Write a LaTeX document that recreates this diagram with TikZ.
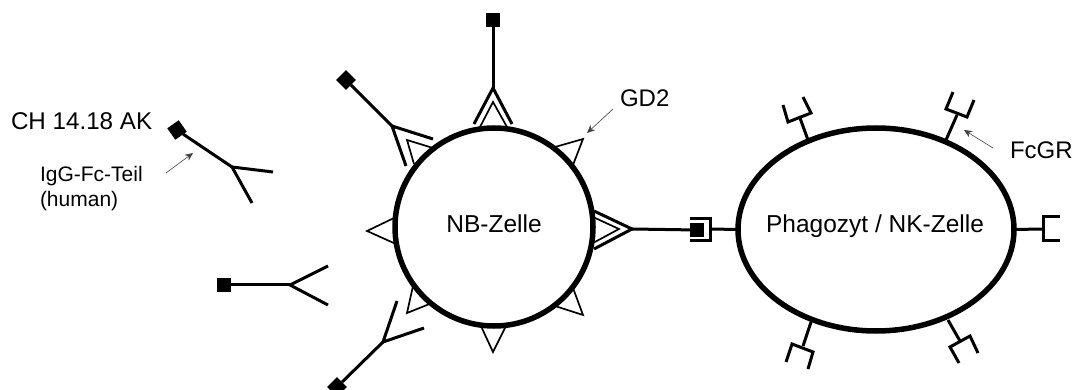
\documentclass[tikz,border=0pt]{standalone}
\usepackage{fontspec}
\setmainfont{Liberation Sans}
\usetikzlibrary{shapes.geometric,arrows.meta}
\tikzset{
  x=1pt,y=-1pt,
  cell/.style={draw=black,line width=5.5pt,fill=none,inner sep=0pt,outer sep=0pt,anchor=center},
  fcsquare/.style={fill=black,draw=none,minimum size=14pt,inner sep=0pt,outer sep=0pt,shape=rectangle},
  chain/.style={line width=3pt,line cap=butt,line join=miter,draw=black},
  antigen/.style={line width=1.7pt,line join=miter,draw=black,fill=none},
  pointer/.style={line width=0.6pt,draw=black!75,-{Stealth[length=8pt,width=7pt]}},
  label/.style={inner sep=0pt,outer sep=0pt,text=black,anchor=base west},
}
\begin{document}
\begin{tikzpicture}
\useasboundingbox (0,0) rectangle (1077,390);

% Cells
\node[cell,circle,minimum size=198pt] (nb) at (494,227) {};
\node[cell,ellipse,minimum width=276pt,minimum height=203pt] (phago) at (876,229.5) {};

% GD2 antigens on the tumour cell surface
\draw[antigen] (480,127) -- (493,102) -- (507,127);
\draw[antigen] (433,148) -- (407,140) -- (414,164);
\draw[antigen] (555,147) -- (583,139) -- (573,165);
\draw[antigen] (593,217) -- (619,229) -- (593,243);
\draw[antigen] (394,218) -- (367,231) -- (396,244);
\draw[antigen] (413,286) -- (407,313) -- (432,303);
\draw[antigen] (480,324) -- (493,352) -- (507,324);
\draw[antigen] (555,306) -- (583,315) -- (573,288);

% Free antibody, upper left
\node[fcsquare,rotate=35] (fa) at (177,130) {};
\coordinate (ja) at (232,167);
\coordinate (aa1) at (273,172);
\coordinate (aa2) at (252,203);
\draw[chain] (fa) -- (ja);
\draw[chain] (aa1) -- (ja) -- (aa2);

% Free antibody, left
\node[fcsquare] (fb) at (224,285) {};
\coordinate (jb) at (290,285);
\coordinate (ab1) at (328,266);
\coordinate (ab2) at (328,305);
\draw[chain] (fb) -- (jb);
\draw[chain] (ab1) -- (jb) -- (ab2);

% Free antibody, bottom
\node[fcsquare,rotate=45] (fc) at (337,387) {};
\coordinate (jc) at (383,342);
\coordinate (ac1) at (397,301);
\coordinate (ac2) at (424,328);
\draw[chain] (fc) -- (jc);
\draw[chain] (ac1) -- (jc) -- (ac2);

% Antibody bound at the top of the cell
\node[fcsquare] (fd) at (493,20) {};
\coordinate (jd) at (493,88);
\coordinate (ad1) at (474,124);
\coordinate (ad2) at (512,124);
\draw[chain] (fd) -- (jd);
\draw[chain] (ad1) -- (jd) -- (ad2);

% Antibody bound at the upper left of the cell
\node[fcsquare,rotate=45] (fe) at (346,80) {};
\coordinate (je) at (392,126);
\coordinate (ae1) at (433,139);
\coordinate (ae2) at (406,166);
\draw[chain] (fe) -- (je);
\draw[chain] (ae1) -- (je) -- (ae2);

% Antibody bridging the tumour cell and the effector cell
\node[fcsquare] (ff) at (697,230) {};
\coordinate (jf) at (632,229);
\coordinate (af1) at (594,211);
\coordinate (af2) at (594,249);
\draw[chain] (ff.center) -- (jf);
\draw[chain] (af1) -- (jf) -- (af2);

% Fc receptors of the effector cell
\coordinate (br) at (710,229);
\draw[chain] (phago.west) -- (br);
\draw[chain] (690,218.5) -- (710,218.5) -- (710,240.5) -- (690,240.5);

\coordinate (r1) at (1043,229);
\draw[chain] (phago.east) -- (r1);
\draw[chain] (1060,217) -- (1043,217) -- (1043,241) -- (1060,241);

\coordinate (r2a) at (808,140); \coordinate (r2b) at (800,118);
\draw[chain] (r2a) -- (r2b);
\draw[chain] (783,105) -- (788,122) -- (811,113) -- (803,97);

\coordinate (r3a) at (946,140); \coordinate (r3b) at (957,115);
\draw[chain] (r3a) -- (r3b);
\draw[chain] (953,92) -- (946,109) -- (967,117) -- (974,100);

\coordinate (r4a) at (811,322); \coordinate (r4b) at (803,346);
\draw[chain] (r4a) -- (r4b);
\draw[chain] (786,362) -- (792,344) -- (813,352) -- (808,369);

\coordinate (r5a) at (948,320); \coordinate (r5b) at (960,341);
\draw[chain] (r5a) -- (r5b);
\draw[chain] (959,363) -- (950,347) -- (970,336) -- (978,353);

% Labels
\node[label,font=\fontsize{24.2}{28}\selectfont] (ch) at (11,130) {CH 14.18 AK};
\node[label,font=\fontsize{21}{25}\selectfont] (igg) at (40,182) {IgG-Fc-Teil};
\node[label,font=\fontsize{21}{25}\selectfont] (hum) at (40,207) {(human)};
\node[label,font=\fontsize{24.5}{29}\selectfont,anchor=base] (nbl) at (494,233) {NB-Zelle};
\node[label,font=\fontsize{24.5}{29}\selectfont,anchor=base] (phl) at (875,233) {Phagozyt / NK-Zelle};
\node[label,font=\fontsize{24}{28}\selectfont] (gd) at (620,107) {GD2};
\node[label,font=\fontsize{24}{28}\selectfont] (fcgr) at (1010,159) {FcGR};

% Pointers
\coordinate (p1s) at (166,173); \coordinate (p1e) at (193,153);
\coordinate (p2s) at (613,109); \coordinate (p2e) at (587,133);
\coordinate (p3s) at (993,148); \coordinate (p3e) at (964,130);
\draw[pointer] (p1s) -- (p1e);
\draw[pointer] (p2s) -- (p2e);
\draw[pointer] (p3s) -- (p3e);
\end{tikzpicture}
\end{document}
